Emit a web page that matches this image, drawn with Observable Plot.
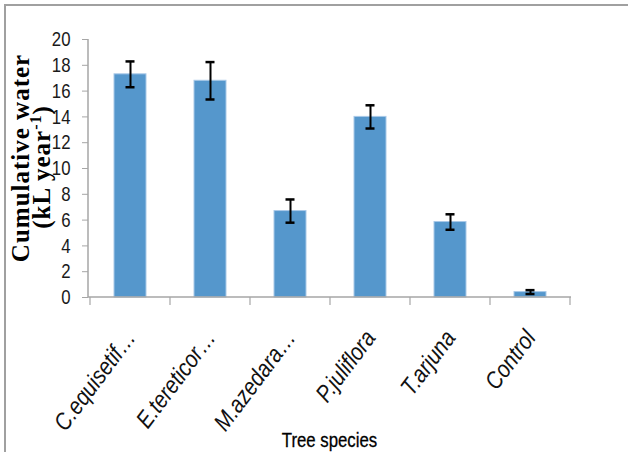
<!DOCTYPE html>
<html>
<head>
<meta charset="utf-8">
<script src="https://cdn.jsdelivr.net/npm/d3@7"></script>
<script src="https://cdn.jsdelivr.net/npm/@observablehq/plot@0.6"></script>
<style>
  html, body { margin: 0; padding: 0; background: #fff; }
  #chart svg { display: block; overflow: hidden; }
</style>
</head>
<body>
<div id="chart"></div>
<script>
const species = ["C.equisetif…", "E.tereticor…", "M.azedara…", "P.juliflora", "T.arjuna", "Control"];
const water = [17.3, 16.8, 6.7, 14.0, 5.85, 0.42];
const errors = [1.0, 1.45, 0.9, 0.9, 0.6, 0.15];
const yTicks = [0, 2, 4, 6, 8, 10, 12, 14, 16, 18, 20];
const xTitle = "Tree species";
const yTitleLine1 = "Cumulative water";
const yTitleLine2 = ["(kL year", "-1", ")"];

const data = species.map((s, i) => ({species: s, value: water[i], err: errors[i]}));

const sansFont = "'Liberation Sans', Arial, sans-serif";
const axisGray = "#a6a6a6";

const chart = Plot.plot({
  width: 628,
  height: 452,
  marginLeft: 88,
  marginRight: 57,
  marginTop: 39,
  marginBottom: 155,
  style: {fontFamily: sansFont, fontSize: "21px", color: "#1a1a1a", background: "transparent"},
  x: {type: "band", domain: species, paddingInner: 0.6, paddingOuter: 0.3, label: null},
  y: {domain: [0, 20], label: null},
  marks: [
    Plot.barY(data, {x: "species", y: "value", fill: "#5597cc", stroke: "#a9c9e8", strokeWidth: 1}),
    Plot.ruleX(data, {x: "species", y1: d => d.value - d.err, y2: d => d.value + d.err, stroke: "#000", strokeWidth: 2}),
    Plot.tickY(data, {x: "species", y: d => d.value + d.err, insetLeft: 11.5, insetRight: 11.5, stroke: "#000", strokeWidth: 2.5}),
    Plot.tickY(data, {x: "species", y: d => d.value - d.err, insetLeft: 11.5, insetRight: 11.5, stroke: "#000", strokeWidth: 2.5}),
    Plot.axisY({ticks: yTicks, tickSize: 6, tickPadding: 12, stroke: axisGray, fill: "#1a1a1a", fontSize: 21, tickFormat: d => String(d), label: null}),
    Plot.axisX({tickSize: 0, tickPadding: 36, tickRotate: -53, fontStyle: "italic", fontSize: 24, fill: "#111", label: null})
  ]
});

const svg = d3.select(chart);

// narrow the sans text (emulates a condensed face)
function condense(sel, k) {
  sel.each(function () {
    const el = d3.select(this);
    const x = +el.attr("x") || 0, y = +el.attr("y") || 0;
    const t = el.attr("transform") || "";
    el.attr("transform", `${t} translate(${x},${y}) scale(${k},1) translate(${-x},${-y})`);
  });
}
condense(svg.selectAll('[aria-label="x-axis tick label"] text'), 0.86);
condense(svg.selectAll('[aria-label="y-axis tick label"] text'), 0.8);

const xs = chart.scale("x");
const ys = chart.scale("y");
const x0 = xs.range[0], x1 = xs.range[1];
const y0 = ys.apply(0), yTop = ys.apply(20);
const gap = (xs.step - xs.bandwidth) / 2;

// axis lines
svg.append("line").attr("x1", x0).attr("x2", x0).attr("y1", yTop).attr("y2", y0)
  .attr("stroke", axisGray).attr("stroke-width", 1.5);
svg.append("line").attr("x1", x0).attr("x2", x1).attr("y1", y0).attr("y2", y0)
  .attr("stroke", axisGray).attr("stroke-width", 1.5);
// category boundary ticks
const bounds = species.map(s => xs.apply(s) - gap).concat([xs.apply(species[species.length - 1]) + xs.bandwidth + gap]);
svg.append("g").selectAll("line").data(bounds).join("line")
  .attr("x1", d => d).attr("x2", d => d).attr("y1", y0).attr("y2", y0 + 8)
  .attr("stroke", axisGray).attr("stroke-width", 1.2);

// x title
const xt = svg.append("text").attr("x", (x0 + x1) / 2).attr("y", 447)
  .attr("text-anchor", "middle").attr("font-family", sansFont).attr("font-size", 21)
  .attr("fill", "#000").attr("stroke", "#000").attr("stroke-width", 0.3).text(xTitle);
condense(xt, 0.8);

// y title (two lines, rotated)
const yMid = 158;
const serif = "'Liberation Serif', 'Times New Roman', serif";
svg.append("text").attr("transform", `translate(29,${yMid}) rotate(-90)`)
  .attr("text-anchor", "middle").attr("font-family", serif).attr("font-weight", "bold")
  .attr("font-size", 25).attr("letter-spacing", 1).attr("fill", "#000").text(yTitleLine1);
const t2 = svg.append("text").attr("transform", `translate(50,${yMid + 9}) rotate(-90)`)
  .attr("text-anchor", "middle").attr("font-family", serif).attr("font-weight", "bold")
  .attr("font-size", 25).attr("letter-spacing", 1).attr("fill", "#000");
t2.append("tspan").text(yTitleLine2[0]);
t2.append("tspan").attr("dy", -9).attr("font-size", 16).text(yTitleLine2[1]);
t2.append("tspan").attr("dy", 9).text(yTitleLine2[2]);

// outer frame
svg.append("rect").attr("x", 5).attr("y", 5).attr("width", 700).attr("height", 600)
  .attr("fill", "none").attr("stroke", "#a0a0a0").attr("stroke-width", 2);

document.getElementById("chart").appendChild(chart);
</script>
</body>
</html>
